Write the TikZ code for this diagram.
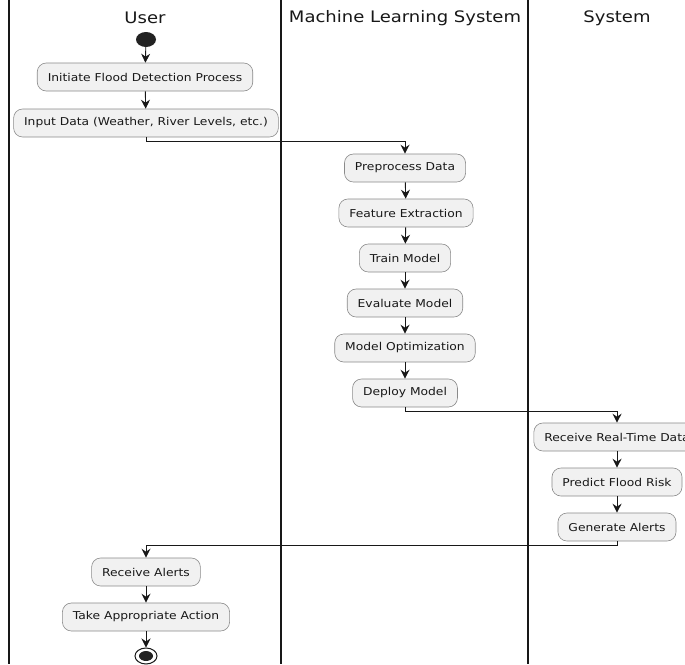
\documentclass[tikz,border=0pt]{standalone}
\usepackage{fontspec}
\setmainfont{DejaVu Sans}
\usetikzlibrary{arrows.meta,shapes.geometric}
\definecolor{actfill}{HTML}{F1F1F1}
\definecolor{linecol}{HTML}{181818}
\definecolor{actborder}{HTML}{8A8A8A}
\definecolor{startcol}{HTML}{222222}
\newcommand{\sqz}[1]{\scalebox{1}[0.88]{#1}}
\begin{document}
\begin{tikzpicture}[x=1pt,y=-1pt,
  act/.style={draw=actborder, line width=0.6pt, fill=actfill, rounded corners=9pt,
    minimum height=28pt, inner xsep=10.5pt, inner ysep=0pt,
    font=\fontsize{12.3}{14}\selectfont, text=linecol},
  arr/.style={draw=linecol, line width=0.9pt, -{Stealth[length=9pt,width=9pt,inset=3pt]}},
  lane/.style={draw=linecol, line width=1.3pt},
  hdr/.style={font=\fontsize{18}{20}\selectfont, text=linecol, inner sep=0pt}]
\useasboundingbox (0,0) rectangle (685,664);
\clip (0,0) rectangle (685,664);
\fill[white] (0,0) rectangle (685,664);
% swimlanes
\draw[lane] (9,0) -- (9,664);
\draw[lane] (281,0) -- (281,664);
\draw[lane] (528,0) -- (528,664);
\node[hdr] (hU) at (145,18) {\sqz{User}};
\node[hdr] (hM) at (405,18) {\sqz{Machine Learning System}};
\node[hdr] (hS) at (617,18) {\sqz{System}};
% nodes
\node[ellipse, fill=startcol, minimum width=20pt, minimum height=15pt, inner sep=0pt] (start) at (146,39.5) {};
\node[act] (n1) at (145,77) {\sqz{Initiate Flood Detection Process}};
\node[act] (n2) at (146,123) {\sqz{Input Data (Weather, River Levels, etc.)}};
\node[act] (n3) at (405,168) {\sqz{Preprocess Data}};
\node[act] (n4) at (406,213) {\sqz{Feature Extraction}};
\node[act] (n5) at (405,258) {\sqz{Train Model}};
\node[act] (n6) at (405,303) {\sqz{Evaluate Model}};
\node[act] (n7) at (405,348) {\sqz{Model Optimization}};
\node[act] (n8) at (405,393) {\sqz{Deploy Model}};
\node[act] (n9) at (617,437) {\sqz{Receive Real-Time Data}};
\node[act] (n10) at (617,482) {\sqz{Predict Flood Risk}};
\node[act] (n11) at (617,527) {\sqz{Generate Alerts}};
\node[act] (n12) at (146,572) {\sqz{Receive Alerts}};
\node[act] (n13) at (146,617) {\sqz{Take Appropriate Action}};
\node[ellipse, draw=linecol, line width=1pt, fill=white, minimum width=22pt, minimum height=16pt, inner sep=0pt] (end) at (146,656) {};
\fill[startcol] (end.center) ellipse (7 and 5);
% connectors
\draw[arr] (start) -- (n1);
\draw[arr] (n1) -- (n2);
\draw[arr] (n2.south) -- ++(0,4) -| (n3.north);
\draw[arr] (n3) -- (n4);
\draw[arr] (n4) -- (n5);
\draw[arr] (n5) -- (n6);
\draw[arr] (n6) -- (n7);
\draw[arr] (n7) -- (n8);
\draw[arr] (n8.south) -- ++(0,4) -| (n9.north);
\draw[arr] (n9) -- (n10);
\draw[arr] (n10) -- (n11);
\draw[arr] (n11.south) -- ++(0,4) -| (n12.north);
\draw[arr] (n12) -- (n13);
\draw[arr] (n13) -- (end);
\end{tikzpicture}
\end{document}
